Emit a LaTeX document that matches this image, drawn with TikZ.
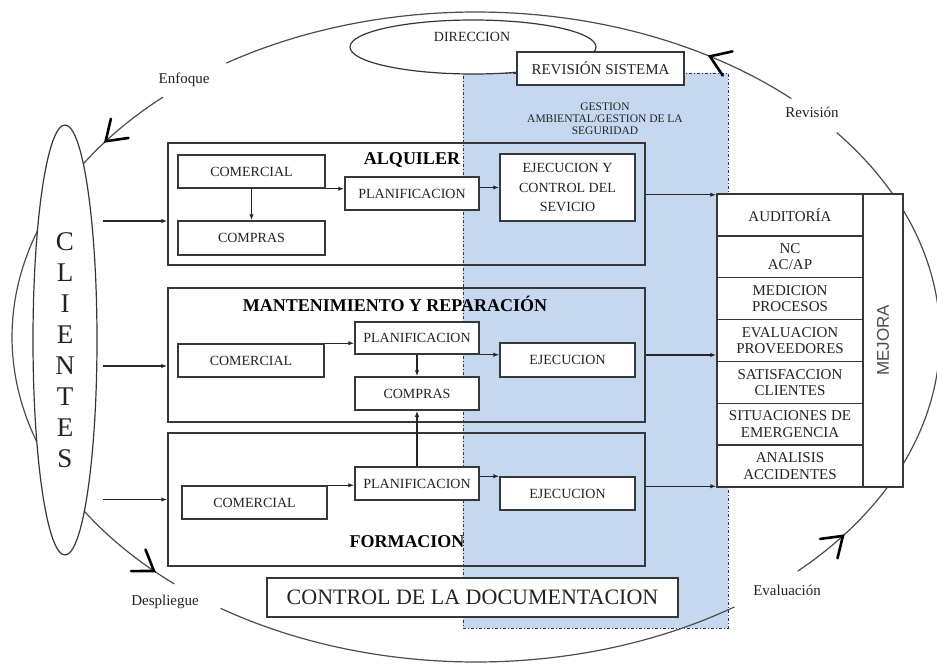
\documentclass[tikz,border=0pt]{standalone}
\usepackage{fontspec}
\setmainfont{Liberation Serif}
\newfontfamily\mysans{Liberation Sans}
\usetikzlibrary{shapes.geometric,arrows.meta,decorations.markings,calc}
\definecolor{gblue}{RGB}{197,216,240}
\definecolor{lc}{RGB}{55,55,55}
\definecolor{tc}{RGB}{35,35,35}
\newcommand{\fz}[2]{\fontsize{#1}{#2}\selectfont}
\newcommand{\chevron}{\draw[black, line width=2.6pt, line cap=round, line join=miter] (-19pt,13pt) -- (0pt,0pt) -- (-19pt,-13pt);}
\tikzset{
  bx/.style={draw=lc, line width=1.5pt, fill=white, inner sep=0pt, align=center, text=tc, font=\fz{14}{19.5}},
  grp/.style={draw=lc, line width=1.5pt, inner sep=0pt},
  ttl/.style={font=\bfseries\fz{18}{20}, text=black, inner sep=0pt},
  arr/.style={draw=black!85, line width=1.2pt, -{Latex[length=6pt,width=4.5pt]}},
  cyc/.style={draw=black!70, line width=1.2pt},
  lbl/.style={font=\fz{15}{17}, text=tc, inner sep=0pt},
  rowb/.style={draw=lc, line width=1.3pt, fill=white, inner sep=0pt, align=center, text=tc, font=\fz{15}{16.5}, minimum width=146pt, minimum height=41.86pt}
}
\begin{document}
\begin{tikzpicture}[x=1pt,y=-1pt]
\useasboundingbox (0,0) rectangle (937,664);
\fill[white] (0,0) rectangle (937,664);

% blue management region
\node[draw=lc!80!blue, fill=gblue, line width=1pt, dash pattern=on 3pt off 2pt on 1pt off 2pt,
      minimum width=265pt, minimum height=555pt, inner sep=0pt] (gest) at (595.5,350.5) {};

% outer cycle (four arcs)
\draw[cyc, postaction={decorate}, decoration={markings, mark=at position 0.156 with {\chevron}}]
  plot[domain=0:1, samples=80] ({476+464*cos(312.8-75.4*\x)}, {337+325*sin(312.8-75.4*\x)});
\draw[cyc, postaction={decorate}, decoration={markings, mark=at position 0.12 with {\chevron}, mark=at position 0.96 with {\chevron}}]
  plot[domain=0:1, samples=100] ({476+464*cos(227.6-97.2*\x)}, {337+325*sin(227.6-97.2*\x)});
\draw[cyc]
  plot[domain=0:1, samples=80] ({476+464*cos(123.4-67.3*\x)}, {337+325*sin(123.4-67.3*\x)});
\draw[cyc, postaction={decorate}, decoration={markings, mark=at position 0.11 with {\chevron}}]
  plot[domain=0:1, samples=100] ({476+464*cos(46.1-85.2*\x)}, {337+325*sin(46.1-85.2*\x)});

% direccion and revision
\node[ellipse, draw=lc, line width=1.2pt, fill=white, minimum width=246pt, minimum height=54pt, inner sep=0pt] (dir) at (473,47) {};
\node[font=\fz{14}{16}, text=tc] (dirt) at (472,37) {DIRECCION};
\node[bx, minimum width=167pt, minimum height=33pt, font=\fz{15}{17}] (rev) at (600.5,68.5) {REVISIÓN SISTEMA};

\node[align=center, font=\fz{11.5}{12}, text=tc] (gt) at (605,119) {GESTION\\AMBIENTAL/GESTION DE LA\\SEGURIDAD};

% ALQUILER
\node[grp, minimum width=477pt, minimum height=122pt] (alq) at (406.5,204) {};
\node[ttl] (alqt) at (412,160) {ALQUILER};
\node[bx, minimum width=147pt, minimum height=33pt] (com1) at (251.5,171.5) {COMERCIAL};
\node[bx, minimum width=147pt, minimum height=34pt] (cmp1) at (251.5,238) {COMPRAS};
\node[bx, minimum width=134pt, minimum height=33pt] (pl1) at (412,193.5) {PLANIFICACION};
\node[bx, minimum width=135pt, minimum height=67pt] (ej1) at (567.5,187.5) {EJECUCION Y\\CONTROL DEL\\SEVICIO};
\draw[arr] (com1) -- (cmp1);
\draw[arr] (com1.south east) -- (com1.south east -| pl1.west);
\draw[arr] (pl1.east |- ej1.west) -- (ej1.west);

% MANTENIMIENTO
\node[grp, minimum width=477pt, minimum height=134pt] (mnt) at (406.5,355) {};
\node[ttl] (mntt) at (395,304) {MANTENIMIENTO Y REPARACIÓN};
\node[bx, minimum width=146pt, minimum height=33pt] (com2) at (251,360.5) {COMERCIAL};
\node[bx, minimum width=124pt, minimum height=32pt] (pl2) at (417,338) {PLANIFICACION};
\node[bx, minimum width=124pt, minimum height=33pt] (cmp2) at (417,393.5) {COMPRAS};
\node[bx, minimum width=135pt, minimum height=34pt] (ej2) at (567.5,360) {EJECUCION};
\draw[arr] (com2.north east) -- (com2.north east -| pl2.west);
\draw[arr] (pl2.south east) -- (pl2.south east -| ej2.west);
\draw[arr] (pl2) -- (cmp2);

% FORMACION
\node[grp, minimum width=477pt, minimum height=133pt] (frm) at (406.5,499.5) {};
\node[ttl] (frmt) at (407,542) {FORMACION};
\node[bx, minimum width=145pt, minimum height=33pt] (com3) at (254.5,502.5) {COMERCIAL};
\node[bx, minimum width=124pt, minimum height=33pt] (pl3) at (417,483.5) {PLANIFICACION};
\node[bx, minimum width=135pt, minimum height=33pt] (ej3) at (567.5,493.5) {EJECUCION};
\draw[arr] (com3.north east) -- (com3.north east -| pl3.west);
\draw[arr] (ej3.north west -| pl3.east) -- (ej3.north west);
\draw[arr] (pl3) -- (cmp2);

% documentation
\node[bx, minimum width=411pt, minimum height=39pt, font=\fz{22}{24}] (doc) at (472.5,597.5) {CONTROL DE LA DOCUMENTACION};

% MEJORA
\node[draw=lc, line width=1.5pt, fill=white, minimum width=186pt, minimum height=293pt, inner sep=0pt] (mej) at (810,340.5) {};
\node[rowb] (r1) at (790,214.9) {AUDITORÍA};
\node[rowb] (r2) at (790,256.8) {NC\\AC/AP};
\node[rowb] (r3) at (790,298.6) {MEDICION\\PROCESOS};
\node[rowb] (r4) at (790,340.5) {EVALUACION\\PROVEEDORES};
\node[rowb] (r5) at (790,382.4) {SATISFACCION\\CLIENTES};
\node[rowb] (r6) at (790,424.2) {SITUACIONES DE\\EMERGENCIA};
\node[rowb] (r7) at (790,466.1) {ANALISIS\\ACCIDENTES};
\node[rotate=90, font=\mysans\fz{17}{18}, text=black!70] (mejt) at (883,340.5) {MEJORA};

\coordinate (m1) at ($(mej.north west)+(0,1.5)$);
\coordinate (m3) at ($(mej.south west)+(0,-1.5)$);
\draw[arr] (alq.east |- m1) -- (m1);
\draw[arr] (mnt.east) -- (mnt.east -| mej.west);
\draw[arr] (frm.east |- m3) -- (m3);

% CLIENTES
\node[ellipse, draw=lc, line width=1.2pt, fill=white, minimum width=64pt, minimum height=430pt, inner sep=0pt] (cli) at (65,340) {};
\node[align=center, font=\fz{27}{31}, text=tc] (clit) at (65,350) {C\\L\\I\\E\\N\\T\\E\\S};

\coordinate (e1) at ($(alq.west)+(0,17)$);
\coordinate (e2) at ($(mnt.west)+(0,11)$);
\coordinate (e3) at (frm.west);
\draw[arr, shorten <=5pt] (cli.east |- e1) -- (e1);
\draw[arr, shorten <=5pt] (cli.east |- e2) -- (e2);
\draw[arr, shorten <=5pt] (cli.east |- e3) -- (e3);

% cycle labels
\node[lbl] (enf) at (184,80) {Enfoque};
\node[lbl] (revl) at (812,112) {Revisión};
\node[lbl] (eva) at (787,590) {Evaluación};
\node[lbl] (des) at (165,602) {Despliegue};
\end{tikzpicture}
\end{document}
